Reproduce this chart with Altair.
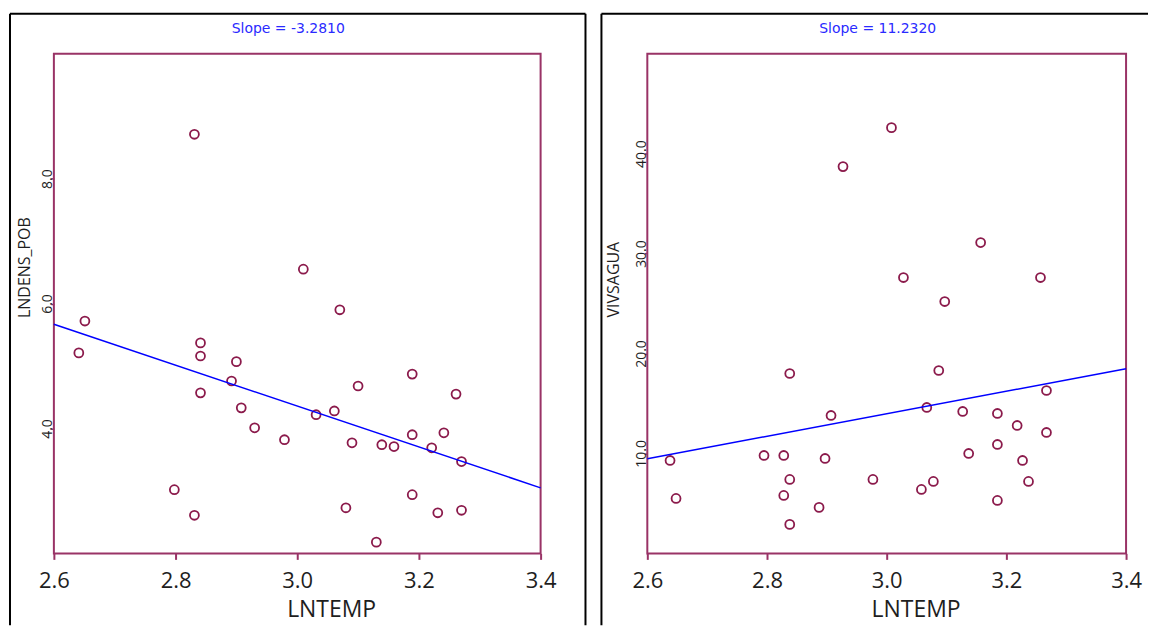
import altair as alt
import pandas as pd

# ---------------- data ----------------
x_ticks = [2.6, 2.8, 3.0, 3.2, 3.4]
x_domain = [2.6, 3.4]
x_title = "LNTEMP"

left_x = [2.641, 2.651, 2.798, 2.831, 2.831, 2.841, 2.841, 2.841, 2.892, 2.900,
          2.908, 2.930, 2.979, 3.010, 3.031, 3.061, 3.070, 3.080, 3.090, 3.100,
          3.130, 3.139, 3.159, 3.189, 3.189, 3.189, 3.221, 3.231, 3.241, 3.261,
          3.270, 3.270]
left_y = [5.21, 5.72, 3.02, 8.71, 2.61, 5.37, 5.16, 4.57, 4.76, 5.07,
          4.33, 4.01, 3.82, 6.55, 4.22, 4.28, 5.90, 2.73, 3.77, 4.68,
          2.18, 3.74, 3.71, 4.87, 3.90, 2.94, 3.69, 2.65, 3.93, 4.55,
          3.47, 2.69]
left_title = "LNDENS_POB"
left_ticks = [4.0, 6.0, 8.0]
left_domain = [2, 10]
left_slope = "Slope = -3.2810"

right_x = [2.638, 2.648, 2.795, 2.828, 2.828, 2.838, 2.838, 2.838, 2.887, 2.897,
           2.907, 2.927, 2.977, 3.008, 3.028, 3.058, 3.067, 3.078, 3.087, 3.097,
           3.127, 3.137, 3.157, 3.185, 3.185, 3.185, 3.218, 3.227, 3.237, 3.257,
           3.267, 3.267]
right_y = [9.3, 5.5, 9.8, 9.8, 5.8, 18.0, 7.4, 2.9, 4.6, 9.5,
           13.8, 38.7, 7.4, 42.6, 27.6, 6.4, 14.6, 7.2, 18.3, 25.2,
           14.2, 10.0, 31.1, 14.0, 10.9, 5.3, 12.8, 9.3, 7.2, 27.6,
           16.3, 12.1]
right_title = "VIVSAGUA"
right_ticks = [10.0, 20.0, 30.0, 40.0]
right_domain = [0, 50]
right_slope = "Slope = 11.2320"

# ---------------- styling ----------------
MAROON = "#993366"
POINT = "#8B1A4B"
BLUE = "#0000FF"
TITLE_BLUE = "#2A2AFF"
TEXT = "#1E1E1E"


def panel(xs, ys, ytitle, yticks, ydomain, slope, width, height,
          frame_left, frame_right, draw_right, slope_x, xtitle_x, ytitle_x, ytitle_y):
    df = pd.DataFrame({"x": xs, "y": ys})
    xscale = alt.Scale(domain=x_domain, nice=False, zero=False)
    yscale = alt.Scale(domain=ydomain, nice=False, zero=False)
    xaxis = alt.Axis(values=x_ticks, format=".1f", title=x_title, labelFlush=False,
                     grid=False, domain=False, tickSize=6, tickWidth=2, tickColor=MAROON,
                     labelFont="Open Sans", labelFontSize=22, labelColor=TEXT,
                     labelBaseline="alphabetic", labelPadding=28, labelOverlap=False,
                     titleFont="Open Sans", titleFontSize=23, titleFontWeight="normal",
                     titleColor=TEXT, titleX=xtitle_x, titleY=63,
                     titleBaseline="alphabetic", titleAlign="center")
    yaxis = alt.Axis(values=yticks, format=".1f", title=ytitle, grid=False, domain=False,
                     tickSize=3, tickWidth=1.5, tickColor=MAROON,
                     labelFont="Open Sans", labelFontSize=14, labelColor=TEXT,
                     labelAngle=270, labelAlign="center", labelBaseline="alphabetic",
                     labelPadding=-1, labelOverlap=False,
                     titleFont="Open Sans", titleFontSize=16, titleFontWeight="normal",
                     titleColor=TEXT, titleAngle=270, titleAlign="center",
                     titleBaseline="alphabetic", titleX=ytitle_x, titleY=ytitle_y)
    base = alt.Chart(df)
    pts = base.mark_point(shape="circle", filled=False, size=80, strokeWidth=1.8,
                          color=POINT, opacity=1).encode(
        x=alt.X("x:Q", scale=xscale, axis=xaxis),
        y=alt.Y("y:Q", scale=yscale, axis=yaxis),
    )
    line = base.transform_regression("x", "y", extent=x_domain).mark_line(
        color=BLUE, strokeWidth=1.5).encode(x="x:Q", y="y:Q")

    one = alt.Chart(pd.DataFrame({"k": [0]}))
    layers = [
        one.mark_rule(color="black", strokeWidth=2).encode(
            x=alt.value(frame_left), y=alt.value(-40), y2=alt.value(573)),
        one.mark_rule(color="black", strokeWidth=2).encode(
            x=alt.value(frame_left), x2=alt.value(frame_right), y=alt.value(-40)),
    ]
    if draw_right:
        layers.append(one.mark_rule(color="black", strokeWidth=2).encode(
            x=alt.value(frame_right), y=alt.value(-40), y2=alt.value(573)))
    title = one.mark_text(font="DejaVu Sans", fontSize=14, color=TITLE_BLUE,
                          align="center", baseline="alphabetic").encode(
        x=alt.value(slope_x), y=alt.value(-21), text=alt.value(slope))
    layers += [pts, line, title]
    return alt.layer(*layers).properties(width=width, height=height)


left = panel(left_x, left_y, left_title, left_ticks, left_domain, left_slope,
             488, 501, -44, 533, True, 235, 278, -24, 214)
right = panel(right_x, right_y, right_title, right_ticks, right_domain, right_slope,
              480, 501, -46, 502, False, 231, 269, -29, 226)

chart = alt.hconcat(left, right, spacing=12).properties(
    padding={"top": 3, "left": 0, "right": 0, "bottom": 0},
    background="white",
).configure_view(stroke=MAROON, strokeWidth=2)

chart.save("out.html", embed_options={"renderer": "svg", "actions": False})
